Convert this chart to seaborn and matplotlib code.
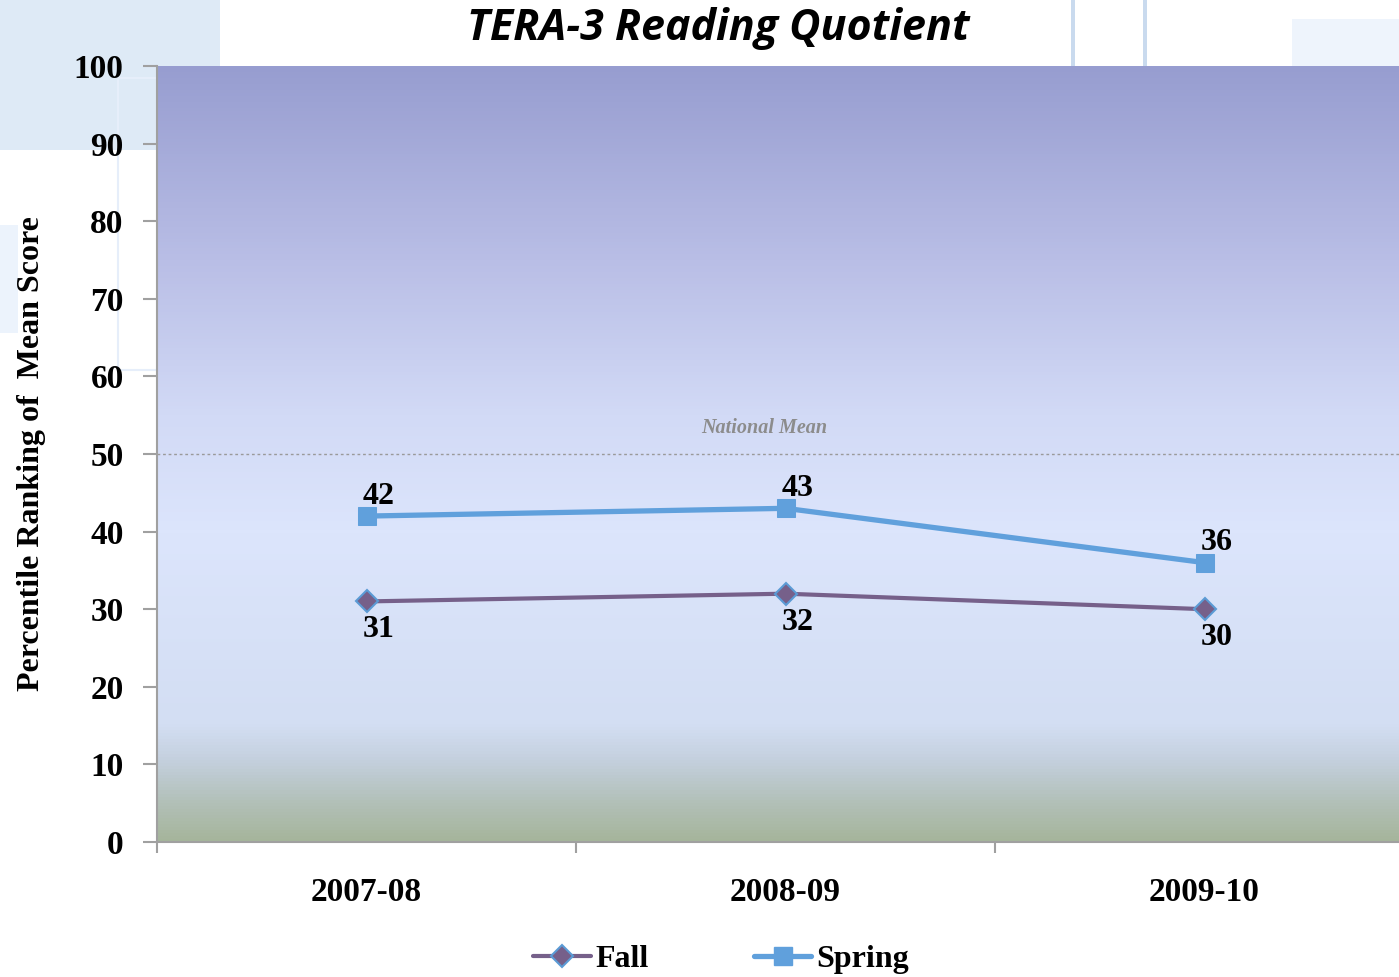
import numpy as np
import pandas as pd
import matplotlib
matplotlib.use('Agg')
import matplotlib.pyplot as plt
import seaborn as sns
from matplotlib.colors import LinearSegmentedColormap
from matplotlib.patches import Rectangle
from matplotlib.lines import Line2D

# data
years = ['2007-08', '2008-09', '2009-10']
fall = [31, 32, 30]
spring = [42, 43, 36]
national_mean = 50
y_ticks = [0, 10, 20, 30, 40, 50, 60, 70, 80, 90, 100]

df = pd.DataFrame({'year': years * 2,
                   'score': fall + spring,
                   'term': ['Fall'] * 3 + ['Spring'] * 3})

sns.set_theme(style='ticks')
plt.rcParams['font.family'] = ['Liberation Serif', 'DejaVu Serif']
plt.rcParams['text.color'] = 'black'
plt.rcParams['xtick.color'] = '#a0a0a0'
plt.rcParams['ytick.color'] = '#a0a0a0'
plt.rcParams['xtick.labelcolor'] = 'black'
plt.rcParams['ytick.labelcolor'] = 'black'

fall_col = '#76608a'
spring_col = '#60a0dc'

fig = plt.figure(figsize=(13.99, 9.77), dpi=100)
W, H = 1399, 977

def px_rect(x0, y0, x1, y1, **kw):
    # rectangle given in pixel coords from top-left
    fig.patches.append(Rectangle((x0 / W, 1 - y1 / H), (x1 - x0) / W, (y1 - y0) / H,
                                 transform=fig.transFigure, zorder=-5, **kw))

# faint slide decorations behind the chart
px_rect(0, 0, 220, 150, facecolor='#deeaf6', edgecolor='none')
px_rect(118, 78, 160, 370, facecolor='none', edgecolor='#e6eefa', lw=1.5)
px_rect(0, 225, 18, 333, facecolor='#ecf3fc', edgecolor='none')
px_rect(1071, 0, 1075, 66, facecolor='#c9daee', edgecolor='none')
px_rect(1143, 0, 1147, 66, facecolor='#c9daee', edgecolor='none')
px_rect(1292, 19, 1399, 66, facecolor='#eef4fc', edgecolor='none')

ax = fig.add_axes([157 / W, 1 - 842 / H, (1414 - 157) / W, (842 - 66) / H])
ax.set_zorder(2)
ax.patch.set_alpha(0)

# vertical gradient fill of the plot area
grad = LinearSegmentedColormap.from_list('bg', [
    (0.00, '#a5b59b'), (0.05, '#b2c0b8'), (0.10, '#c3cfdc'), (0.15, '#d3def3'),
    (0.40, '#dce5fc'), (0.55, '#d2daf6'), (0.75, '#b9bee6'), (1.00, '#979dd0')])
ax.imshow(np.linspace(0, 1, 256).reshape(-1, 1), extent=(-0.5, 2.5, 0, 100),
          origin='lower', aspect='auto', cmap=grad, zorder=0)

sns.lineplot(data=df[df.term == 'Fall'], x='year', y='score', ax=ax, color=fall_col,
             lw=3.0, marker='D', markersize=11, markerfacecolor=fall_col,
             markeredgecolor='#5b9bd5', markeredgewidth=1.5, zorder=3)
sns.lineplot(data=df[df.term == 'Spring'], x='year', y='score', ax=ax, color=spring_col,
             lw=3.8, marker='s', markersize=13, markerfacecolor=spring_col,
             markeredgecolor=spring_col, zorder=3)

ax.axhline(national_mean, color='#9a9a9a', lw=1, ls=(0, (2, 2)), zorder=2)
ax.text(0.95, national_mean + 2, 'National Mean', ha='center', va='bottom',
        fontsize=14.5, fontweight='bold', fontstyle='italic', color='#8c8c8c')

for i, v in enumerate(spring):
    ax.text(i + 0.03, v + 0.7, str(v), ha='center', va='bottom',
            fontsize=23, fontweight='bold', color='black')
for i, v in enumerate(fall):
    ax.text(i + 0.03, v - 1.8, str(v), ha='center', va='top',
            fontsize=23, fontweight='bold', color='black')

ax.set_xlim(-0.5, 2.5)
ax.set_ylim(0, 100)
ax.set_yticks(y_ticks)
ax.set_xticks([-0.5, 0.5, 1.5, 2.5])
ax.set_xticklabels([])
ax.set_xticks([0, 1, 2], minor=True)
ax.set_xticklabels(years, minor=True)
ax.tick_params(axis='x', which='major', bottom=True, length=8, width=1.5,
               color='#a0a0a0', direction='out')
ax.tick_params(axis='x', which='minor', bottom=True, length=0, pad=25, labelsize=24)
ax.tick_params(axis='y', left=True, length=10, width=1.5, color='#a0a0a0', direction='out',
               pad=14, labelsize=24)
for lab in ax.get_xticklabels(minor=True) + ax.get_yticklabels():
    lab.set_fontweight('bold')
    lab.set_color('black')

for s in ['top', 'right']:
    ax.spines[s].set_visible(False)
for s in ['left', 'bottom']:
    ax.spines[s].set_color('#a0a0a0')
    ax.spines[s].set_linewidth(1.5)

ax.set_xlabel('')
ax.set_ylabel('Percentile Ranking of  Mean Score', fontsize=23, fontweight='bold',
              labelpad=20, color='black')

fig.text(718 / W, 1 - 28 / H, 'TERA-3 Reading Quotient', ha='center', va='center',
         fontsize=31, fontweight='bold', fontstyle='italic', color='black',
         family=['Open Sans', 'DejaVu Sans'])

handles = [
    Line2D([], [], color=fall_col, lw=3.0, marker='D', markersize=11,
           markerfacecolor=fall_col, markeredgecolor='#5b9bd5', markeredgewidth=1.5),
    Line2D([], [], color=spring_col, lw=3.8, marker='s', markersize=13,
           markerfacecolor=spring_col, markeredgecolor=spring_col),
]
fig.legend(handles, ['Fall', 'Spring'], loc='center', bbox_to_anchor=(721 / W, 1 - 959 / H),
           ncol=2, frameon=False, handlelength=1.8, handletextpad=0.15, columnspacing=3.3,
           prop={'size': 23, 'weight': 'bold'})

fig.savefig('out.png', dpi=100)
